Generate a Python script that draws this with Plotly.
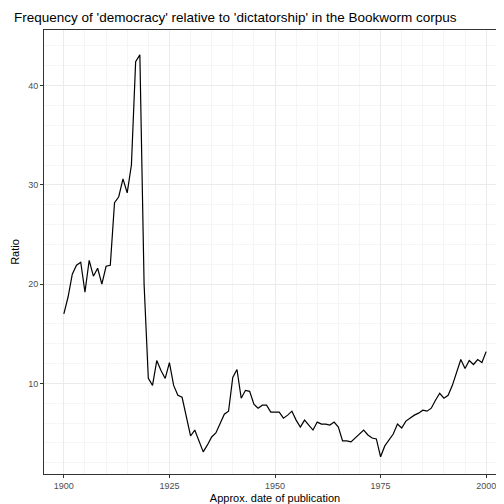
import plotly.graph_objects as go

years = list(range(1900, 2001))
ratio = [17.0, 18.7, 21.0, 21.9, 22.2, 19.2, 22.4, 20.8, 21.6, 20.0,
         21.8, 21.9, 28.2, 28.8, 30.6, 29.2, 32.0, 42.4, 43.1, 20.0,
         10.5, 9.8, 12.3, 11.3, 10.5, 12.1, 9.8, 8.8, 8.6, 6.8,
         4.7, 5.3, 4.2, 3.1, 3.8, 4.6, 5.0, 6.0, 6.9, 7.2,
         10.6, 11.4, 8.5, 9.3, 9.2, 7.9, 7.5, 7.8, 7.8, 7.1,
         7.1, 7.1, 6.5, 6.8, 7.2, 6.3, 5.6, 6.3, 5.8, 5.3,
         6.1, 5.9, 5.9, 5.8, 6.1, 5.6, 4.2, 4.2, 4.1, 4.5,
         5.0, 5.3, 4.8, 4.5, 4.4, 2.6, 3.7, 4.3, 4.9, 5.9,
         5.5, 6.2, 6.5, 6.8, 7.0, 7.3, 7.2, 7.5, 8.3, 9.0,
         8.5, 8.8, 9.8, 11.1, 12.4, 11.5, 12.3, 11.9, 12.4, 12.1, 13.2]

fig = go.Figure(go.Scatter(x=years, y=ratio, mode="lines",
                           line=dict(color="black", width=1.2)))
ax = dict(showline=True, linecolor="#333333", mirror=True, linewidth=1,
          gridcolor="#EBEBEB", ticks="outside", tickcolor="#333333", ticklen=3,
          tickfont=dict(size=9, color="#4D4D4D"), zeroline=False,
          minor=dict(showgrid=True, gridcolor="#F5F5F5"))
fig.update_layout(
    width=504, height=504, plot_bgcolor="white", paper_bgcolor="white",
    margin=dict(l=36, r=6, t=22, b=38),
    font=dict(family="Liberation Sans, Arial", color="black"),
    title=dict(text="Frequency of 'democracy' relative to 'dictatorship' in the Bookworm corpus",
               x=0.012, xanchor="left", y=0.99, yanchor="top", font=dict(size=13.5)),
    xaxis=dict(ax, range=[1895.3, 2004.7], tickvals=[1900, 1925, 1950, 1975, 2000],
               automargin=False,
               title=dict(text="Approx. date of publication", font=dict(size=11), standoff=4)),
    yaxis=dict(ax, range=[0.87, 45.6], tickvals=[10, 20, 30, 40],
               automargin=False,
               title=dict(text="Ratio", font=dict(size=11), standoff=6)),
    showlegend=False,
)
fig.write_html("out.html")
